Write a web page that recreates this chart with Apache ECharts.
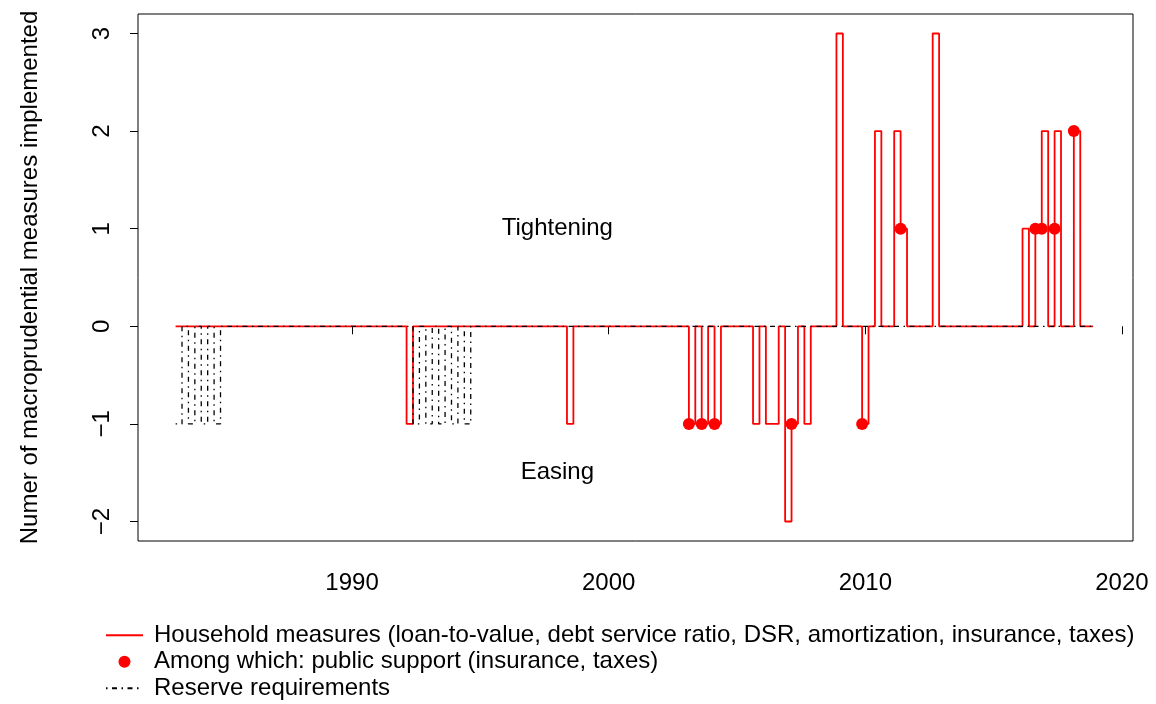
<!DOCTYPE html>
<html>
<head>
<meta charset="utf-8">
<script src="https://cdn.jsdelivr.net/npm/echarts@6/dist/echarts.min.js"></script>
<style>
  html, body { margin: 0; padding: 0; background: #fff; }
  #chart { width: 1156px; height: 704px; }
</style>
</head>
<body>
<div id="chart"></div>
<script>
// quarterly data, 1983Q1 .. 2018Q4, value is 0 unless listed
const firstYear = 1983
const lastYear = 2018

// Household measures (loan-to-value, DSR, ...)
const householdQuarters = ['1992Q1', '1998Q2', '2003Q1', '2003Q3', '2004Q1', '2005Q3', '2006Q1', '2006Q2',
  '2006Q4', '2007Q1', '2007Q3', '2008Q4', '2009Q4', '2010Q2', '2011Q1', '2011Q2', '2012Q3',
  '2016Q1', '2016Q3', '2016Q4', '2017Q2', '2018Q1']
const householdValues = [-1, -1, -1, -1, -1, -1, -1, -1,
  -2, -1, -1, 3, -1, 2, 2, 1, 3,
  1, 1, 2, 2, 2]

// Among which: public support (insurance, taxes)
const supportQuarters = ['2003Q1', '2003Q3', '2004Q1', '2007Q1', '2009Q4', '2011Q2', '2016Q3', '2016Q4', '2017Q2', '2018Q1']
const supportValues = [-1, -1, -1, -1, -1, 1, 1, 1, 1, 2]

// Reserve requirements
const reserveQuarters = ['1983Q1', '1983Q3', '1984Q1', '1984Q3', '1992Q2', '1992Q4', '1993Q2', '1993Q4', '1994Q2']
const reserveValues = [-1, -1, -1, -1, -1, -1, -1, -1, -1]

// axis ticks
const xTicks = [1990, 2000, 2010, 2020]
const yTicks = [-2, -1, 0, 1, 2, 3]

// text inside the plot
const notes = ['Tightening', 'Easing']
const noteX = [1998, 1998]
const noteY = [1, -1.5]

const FONT = '"Liberation Sans", Arial, sans-serif'
const NAME_HH = 'Household measures (loan-to-value, debt service ratio, DSR, amortization, insurance, taxes)'
const NAME_PS = 'Among which: public support (insurance, taxes)'
const NAME_RR = 'Reserve requirements'

// '2003Q1' -> 2003.125 (middle of the quarter)
function quarterToX(q) {
  const year = Number(q.slice(0, 4))
  const n = Number(q.slice(5))
  return year + (n - 1) / 4 + 0.125
}

function fullSeries(quarters, values) {
  const out = []
  for (let y = firstYear; y <= lastYear; y += 1) {
    for (let n = 1; n <= 4; n += 1) {
      const key = y + 'Q' + n
      const i = quarters.indexOf(key)
      out.push([quarterToX(key), i >= 0 ? values[i] : 0])
    }
  }
  return out
}

function pointSeries(quarters, values) {
  return quarters.map((q, i) => [quarterToX(q), values[i]])
}

const chart = echarts.init(document.getElementById('chart'))

const option = {
  animation: false,
  backgroundColor: '#fff',
  textStyle: { fontFamily: FONT },
  grid: {
    left: 138,
    right: 23,
    top: 14,
    bottom: 163,
    show: true,
    borderColor: '#000',
    borderWidth: 1,
    backgroundColor: 'transparent',
  },
  xAxis: {
    type: 'value',
    min: 1981.66,
    max: 2020.43,
    axisLine: { show: false },
    splitLine: { show: false },
    axisTick: {
      show: true,
      length: 8,
      customValues: xTicks,
      lineStyle: { color: '#000', width: 1 },
    },
    axisLabel: {
      customValues: xTicks,
      margin: 30,
      color: '#000',
      fontSize: 24,
      fontFamily: FONT,
      formatter: (v) => String(v),
    },
  },
  yAxis: {
    type: 'value',
    min: -2.2,
    max: 3.2,
    name: 'Numer of macroprudential measures implemented',
    nameLocation: 'middle',
    nameGap: 96,
    nameTextStyle: { color: '#000', fontSize: 24, fontFamily: FONT },
    axisLine: { show: false },
    splitLine: { show: false },
    axisTick: {
      show: true,
      length: 8,
      customValues: yTicks,
      lineStyle: { color: '#000', width: 1 },
    },
    axisLabel: {
      customValues: yTicks,
      rotate: 90,
      margin: 24,
      color: '#000',
      fontSize: 24,
      fontFamily: FONT,
      formatter: (v) => (v < 0 ? '\u2212' + Math.abs(v) : String(v)),
    },
  },
  legend: {
    data: [
      // hide the symbol the line icon gets by default
      { name: NAME_HH, itemStyle: { opacity: 0 } },
      { name: NAME_PS },
      { name: NAME_RR, itemStyle: { opacity: 0 } },
    ],
    orient: 'vertical',
    left: 105,
    top: 622,
    padding: 0,
    itemWidth: 37,
    itemHeight: 12,
    itemGap: 0,
    selectedMode: false,
    textStyle: {
      color: '#000',
      fontSize: 24,
      lineHeight: 26.5,
      fontFamily: FONT,
      padding: [0, 0, 0, 6],
    },
  },
  series: [
    {
      name: NAME_HH,
      type: 'line',
      step: 'end',
      symbol: 'none',
      z: 2,
      lineStyle: { color: '#ff0000', width: 1.8 },
      itemStyle: { color: '#ff0000' },
      data: fullSeries(householdQuarters, householdValues),
    },
    {
      name: NAME_RR,
      type: 'line',
      step: 'end',
      symbol: 'none',
      z: 3,
      lineStyle: { color: '#000', width: 1.3, type: [1.5, 4.5, 5, 4.5] },
      itemStyle: { color: '#000' },
      data: fullSeries(reserveQuarters, reserveValues),
    },
    {
      name: NAME_PS,
      type: 'scatter',
      symbol: 'circle',
      symbolSize: 12,
      z: 4,
      itemStyle: { color: '#ff0000', opacity: 1 },
      data: pointSeries(supportQuarters, supportValues),
    },
    {
      // plain text labels inside the plot
      name: 'notes',
      type: 'scatter',
      symbolSize: 0,
      silent: true,
      itemStyle: { opacity: 1 },
      label: {
        show: true,
        position: 'inside',
        color: '#000',
        fontSize: 24,
        fontFamily: FONT,
        formatter: (p) => p.data[2],
      },
      data: notes.map((t, i) => [noteX[i], noteY[i], t]),
    },
  ],
}

chart.setOption(option)
</script>
</body>
</html>
